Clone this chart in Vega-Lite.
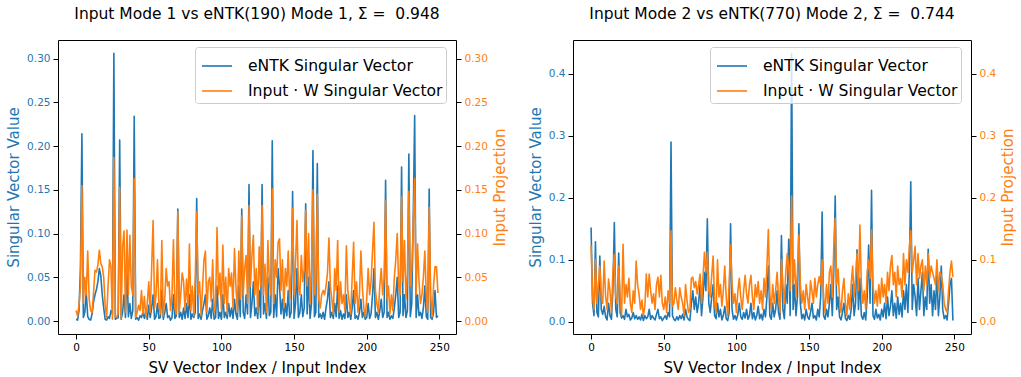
{
"$schema": "https://vega.github.io/schema/vega-lite/v6.json",
"padding": {"left": 6, "top": 6, "right": 0, "bottom": 0},
"background": "white",
"config": {
  "font": "DejaVu Sans",
  "view": {"stroke": "black", "strokeWidth": 1},
  "axis": {"grid": false, "domain": false, "tickColor": "black", "tickSize": 5, "labelFontSize": 10.5, "labelColor": "black", "titleFontSize": 15, "titleFontWeight": "normal", "titleColor": "black", "labelPadding": 3, "titlePadding": 5, "labelFont": "DejaVu Sans", "titleFont": "DejaVu Sans"},
  "axisX": {"titlePadding": 8},
  "title": {"fontSize": 15.5, "fontWeight": "normal", "color": "black", "anchor": "middle", "font": "DejaVu Sans", "offset": 18},
  "legend": {"labelFont": "DejaVu Sans", "labelColor": "black"},
  "concat": {"spacing": 19}
},
"datasets": {
"p1": [
{"i":0,"e":0.002,"p":0.012},{"i":1,"e":0.001,"p":0.006},{"i":2,"e":0.012,"p":0.018},{"i":3,"e":0.060,"p":0.040},{"i":4,"e":0.214,"p":0.155},
{"i":5,"e":0.004,"p":0.020},{"i":6,"e":0.010,"p":0.050},{"i":7,"e":0.033,"p":0.030},{"i":8,"e":0.005,"p":0.080},{"i":9,"e":0.002,"p":0.025},
{"i":10,"e":0.001,"p":0.012},{"i":11,"e":0.008,"p":0.010},{"i":12,"e":0.022,"p":0.032},{"i":13,"e":0.030,"p":0.058},{"i":14,"e":0.036,"p":0.056},
{"i":15,"e":0.045,"p":0.064},{"i":16,"e":0.060,"p":0.081},{"i":17,"e":0.052,"p":0.066},{"i":18,"e":0.030,"p":0.062},{"i":19,"e":0.015,"p":0.050},
{"i":20,"e":0.002,"p":0.018},{"i":21,"e":0.001,"p":0.004},{"i":22,"e":0.005,"p":0.040},{"i":23,"e":0.003,"p":0.070},{"i":24,"e":0.012,"p":0.062},
{"i":25,"e":0.008,"p":0.002},{"i":26,"e":0.306,"p":0.187},{"i":27,"e":0.002,"p":0.005},{"i":28,"e":0.003,"p":0.004},{"i":29,"e":0.004,"p":0.009},
{"i":30,"e":0.207,"p":0.153},{"i":31,"e":0.002,"p":0.003},{"i":32,"e":0.010,"p":0.085},{"i":33,"e":0.030,"p":0.103},{"i":34,"e":0.004,"p":0.010},
{"i":35,"e":0.060,"p":0.104},{"i":36,"e":0.005,"p":0.030},{"i":37,"e":0.020,"p":0.098},{"i":38,"e":0.003,"p":0.040},{"i":39,"e":0.012,"p":0.030},
{"i":40,"e":0.234,"p":0.163},{"i":41,"e":0.002,"p":0.004},{"i":42,"e":0.004,"p":0.010},{"i":43,"e":0.001,"p":0.018},{"i":44,"e":0.006,"p":0.012},
{"i":45,"e":0.004,"p":0.035},{"i":46,"e":0.010,"p":0.008},{"i":47,"e":0.003,"p":0.028},{"i":48,"e":0.012,"p":0.004},{"i":49,"e":0.002,"p":0.020},
{"i":50,"e":0.018,"p":0.045},{"i":51,"e":0.004,"p":0.010},{"i":52,"e":0.015,"p":0.060},{"i":53,"e":0.030,"p":0.115},{"i":54,"e":0.002,"p":0.015},
{"i":55,"e":0.005,"p":0.030},{"i":56,"e":0.020,"p":0.070},{"i":57,"e":0.003,"p":0.018},{"i":58,"e":0.004,"p":0.008},{"i":59,"e":0.035,"p":0.092},
{"i":60,"e":0.002,"p":0.006},{"i":61,"e":0.010,"p":0.025},{"i":62,"e":0.020,"p":0.060},{"i":63,"e":0.004,"p":0.040},{"i":64,"e":0.006,"p":0.045},
{"i":65,"e":0.001,"p":0.012},{"i":66,"e":0.004,"p":0.030},{"i":67,"e":0.030,"p":0.093},{"i":68,"e":0.003,"p":0.015},{"i":69,"e":0.006,"p":0.008},
{"i":70,"e":0.128,"p":0.125},{"i":71,"e":0.004,"p":0.010},{"i":72,"e":0.010,"p":0.030},{"i":73,"e":0.002,"p":0.055},{"i":74,"e":0.015,"p":0.045},
{"i":75,"e":0.003,"p":0.012},{"i":76,"e":0.020,"p":0.048},{"i":77,"e":0.004,"p":0.018},{"i":78,"e":0.030,"p":0.088},{"i":79,"e":0.002,"p":0.012},
{"i":80,"e":0.008,"p":0.040},{"i":81,"e":0.004,"p":0.006},{"i":82,"e":0.010,"p":0.050},{"i":83,"e":0.140,"p":0.125},{"i":84,"e":0.003,"p":0.030},
{"i":85,"e":0.008,"p":0.045},{"i":86,"e":0.002,"p":0.006},{"i":87,"e":0.012,"p":0.038},{"i":88,"e":0.020,"p":0.070},{"i":89,"e":0.030,"p":0.080},
{"i":90,"e":0.002,"p":0.010},{"i":91,"e":0.006,"p":0.045},{"i":92,"e":0.015,"p":0.050},{"i":93,"e":0.003,"p":0.022},{"i":94,"e":0.025,"p":0.070},
{"i":95,"e":0.002,"p":0.010},{"i":96,"e":0.004,"p":0.020},{"i":97,"e":0.040,"p":0.107},{"i":98,"e":0.003,"p":0.030},{"i":99,"e":0.010,"p":0.055},
{"i":100,"e":0.002,"p":0.012},{"i":101,"e":0.030,"p":0.087},{"i":102,"e":0.004,"p":0.020},{"i":103,"e":0.010,"p":0.050},{"i":104,"e":0.003,"p":0.008},
{"i":105,"e":0.020,"p":0.060},{"i":106,"e":0.005,"p":0.040},{"i":107,"e":0.015,"p":0.055},{"i":108,"e":0.003,"p":0.015},{"i":109,"e":0.025,"p":0.083},
{"i":110,"e":0.008,"p":0.040},{"i":111,"e":0.002,"p":0.010},{"i":112,"e":0.040,"p":0.080},{"i":113,"e":0.005,"p":0.025},{"i":114,"e":0.128,"p":0.120},
{"i":115,"e":0.010,"p":0.030},{"i":116,"e":0.003,"p":0.060},{"i":117,"e":0.030,"p":0.075},{"i":118,"e":0.008,"p":0.020},{"i":119,"e":0.156,"p":0.132},
{"i":120,"e":0.004,"p":0.040},{"i":121,"e":0.020,"p":0.075},{"i":122,"e":0.045,"p":0.098},{"i":123,"e":0.006,"p":0.030},{"i":124,"e":0.015,"p":0.060},
{"i":125,"e":0.003,"p":0.010},{"i":126,"e":0.035,"p":0.085},{"i":127,"e":0.004,"p":0.040},{"i":128,"e":0.156,"p":0.132},{"i":129,"e":0.008,"p":0.030},
{"i":130,"e":0.020,"p":0.065},{"i":131,"e":0.003,"p":0.010},{"i":132,"e":0.050,"p":0.092},{"i":133,"e":0.006,"p":0.045},{"i":134,"e":0.010,"p":0.030},
{"i":135,"e":0.206,"p":0.151},{"i":136,"e":0.004,"p":0.020},{"i":137,"e":0.030,"p":0.070},{"i":138,"e":0.005,"p":0.050},{"i":139,"e":0.060,"p":0.090},
{"i":140,"e":0.040,"p":0.094},{"i":141,"e":0.008,"p":0.035},{"i":142,"e":0.025,"p":0.070},{"i":143,"e":0.003,"p":0.015},{"i":144,"e":0.020,"p":0.060},
{"i":145,"e":0.006,"p":0.040},{"i":146,"e":0.035,"p":0.080},{"i":147,"e":0.004,"p":0.025},{"i":148,"e":0.010,"p":0.055},{"i":149,"e":0.148,"p":0.129},
{"i":150,"e":0.003,"p":0.030},{"i":151,"e":0.020,"p":0.065},{"i":152,"e":0.060,"p":0.115},{"i":153,"e":0.004,"p":0.040},{"i":154,"e":0.010,"p":0.030},
{"i":155,"e":0.030,"p":0.075},{"i":156,"e":0.005,"p":0.045},{"i":157,"e":0.015,"p":0.060},{"i":158,"e":0.134,"p":0.127},{"i":159,"e":0.008,"p":0.040},
{"i":160,"e":0.050,"p":0.100},{"i":161,"e":0.003,"p":0.020},{"i":162,"e":0.020,"p":0.060},{"i":163,"e":0.195,"p":0.150},{"i":164,"e":0.005,"p":0.030},
{"i":165,"e":0.010,"p":0.045},{"i":166,"e":0.180,"p":0.145},{"i":167,"e":0.004,"p":0.025},{"i":168,"e":0.008,"p":0.015},{"i":169,"e":0.003,"p":0.030},
{"i":170,"e":0.010,"p":0.035},{"i":171,"e":0.002,"p":0.030},{"i":172,"e":0.015,"p":0.040},{"i":173,"e":0.025,"p":0.055},{"i":174,"e":0.045,"p":0.095},
{"i":175,"e":0.004,"p":0.040},{"i":176,"e":0.010,"p":0.025},{"i":177,"e":0.003,"p":0.008},{"i":178,"e":0.020,"p":0.060},{"i":179,"e":0.005,"p":0.035},
{"i":180,"e":0.040,"p":0.092},{"i":181,"e":0.003,"p":0.010},{"i":182,"e":0.012,"p":0.045},{"i":183,"e":0.002,"p":0.020},{"i":184,"e":0.008,"p":0.030},
{"i":185,"e":0.003,"p":0.012},{"i":186,"e":0.030,"p":0.086},{"i":187,"e":0.004,"p":0.035},{"i":188,"e":0.010,"p":0.020},{"i":189,"e":0.002,"p":0.008},
{"i":190,"e":0.015,"p":0.050},{"i":191,"e":0.035,"p":0.090},{"i":192,"e":0.003,"p":0.020},{"i":193,"e":0.006,"p":0.045},{"i":194,"e":0.002,"p":0.010},
{"i":195,"e":0.010,"p":0.030},{"i":196,"e":0.025,"p":0.080},{"i":197,"e":0.004,"p":0.040},{"i":198,"e":0.010,"p":0.015},{"i":199,"e":0.002,"p":0.005},
{"i":200,"e":0.004,"p":0.025},{"i":201,"e":0.020,"p":0.060},{"i":202,"e":0.003,"p":0.030},{"i":203,"e":0.008,"p":0.045},{"i":204,"e":0.030,"p":0.080},
{"i":205,"e":0.060,"p":0.113},{"i":206,"e":0.004,"p":0.035},{"i":207,"e":0.010,"p":0.020},{"i":208,"e":0.002,"p":0.010},{"i":209,"e":0.012,"p":0.040},
{"i":210,"e":0.025,"p":0.060},{"i":211,"e":0.004,"p":0.030},{"i":212,"e":0.010,"p":0.050},{"i":213,"e":0.161,"p":0.138},{"i":214,"e":0.004,"p":0.025},
{"i":215,"e":0.010,"p":0.040},{"i":216,"e":0.002,"p":0.008},{"i":217,"e":0.006,"p":0.030},{"i":218,"e":0.003,"p":0.012},{"i":219,"e":0.015,"p":0.050},
{"i":220,"e":0.030,"p":0.070},{"i":221,"e":0.050,"p":0.100},{"i":222,"e":0.004,"p":0.040},{"i":223,"e":0.010,"p":0.030},{"i":224,"e":0.176,"p":0.142},
{"i":225,"e":0.006,"p":0.045},{"i":226,"e":0.030,"p":0.092},{"i":227,"e":0.004,"p":0.025},{"i":228,"e":0.012,"p":0.055},{"i":229,"e":0.191,"p":0.148},
{"i":230,"e":0.005,"p":0.040},{"i":231,"e":0.020,"p":0.060},{"i":232,"e":0.115,"p":0.110},{"i":233,"e":0.235,"p":0.163},{"i":234,"e":0.004,"p":0.030},
{"i":235,"e":0.030,"p":0.088},{"i":236,"e":0.006,"p":0.045},{"i":237,"e":0.010,"p":0.020},{"i":238,"e":0.003,"p":0.030},{"i":239,"e":0.015,"p":0.050},
{"i":240,"e":0.040,"p":0.080},{"i":241,"e":0.005,"p":0.030},{"i":242,"e":0.002,"p":0.010},{"i":243,"e":0.151,"p":0.130},{"i":244,"e":0.004,"p":0.030},
{"i":245,"e":0.002,"p":0.005},{"i":246,"e":0.010,"p":0.040},{"i":247,"e":0.035,"p":0.062},{"i":248,"e":0.004,"p":0.062},{"i":249,"e":0.006,"p":0.032}
],
"p2": [
{"i":0,"e":0.152,"p":0.123},{"i":1,"e":0.030,"p":0.040},{"i":2,"e":0.010,"p":0.020},{"i":3,"e":0.129,"p":0.101},{"i":4,"e":0.015,"p":0.030},
{"i":5,"e":0.008,"p":0.060},{"i":6,"e":0.106,"p":0.090},{"i":7,"e":0.020,"p":0.040},{"i":8,"e":0.012,"p":0.030},{"i":9,"e":0.025,"p":0.098},
{"i":10,"e":0.008,"p":0.040},{"i":11,"e":0.003,"p":0.020},{"i":12,"e":0.030,"p":0.069},{"i":13,"e":0.010,"p":0.050},{"i":14,"e":0.004,"p":0.015},
{"i":15,"e":0.050,"p":0.080},{"i":16,"e":0.160,"p":0.109},{"i":17,"e":0.020,"p":0.040},{"i":18,"e":0.008,"p":0.030},{"i":19,"e":0.111,"p":0.090},
{"i":20,"e":0.015,"p":0.040},{"i":21,"e":0.006,"p":0.010},{"i":22,"e":0.010,"p":0.125},{"i":23,"e":0.004,"p":0.030},{"i":24,"e":0.020,"p":0.060},
{"i":25,"e":0.008,"p":0.040},{"i":26,"e":0.012,"p":0.070},{"i":27,"e":0.003,"p":0.030},{"i":28,"e":0.006,"p":0.015},{"i":29,"e":0.015,"p":0.050},
{"i":30,"e":0.005,"p":0.030},{"i":31,"e":0.010,"p":0.098},{"i":32,"e":0.004,"p":0.060},{"i":33,"e":0.008,"p":0.045},{"i":34,"e":0.003,"p":0.020},
{"i":35,"e":0.012,"p":0.035},{"i":36,"e":0.002,"p":0.010},{"i":37,"e":0.010,"p":0.025},{"i":38,"e":0.005,"p":0.077},{"i":39,"e":0.008,"p":0.040},
{"i":40,"e":0.020,"p":0.077},{"i":41,"e":0.004,"p":0.050},{"i":42,"e":0.010,"p":0.030},{"i":43,"e":0.006,"p":0.045},{"i":44,"e":0.003,"p":0.020},
{"i":45,"e":0.012,"p":0.060},{"i":46,"e":0.020,"p":0.072},{"i":47,"e":0.005,"p":0.040},{"i":48,"e":0.008,"p":0.075},{"i":49,"e":0.002,"p":0.030},
{"i":50,"e":0.006,"p":0.020},{"i":51,"e":0.010,"p":0.040},{"i":52,"e":0.004,"p":0.015},{"i":53,"e":0.015,"p":0.050},{"i":54,"e":0.008,"p":0.030},
{"i":55,"e":0.290,"p":0.147},{"i":56,"e":0.010,"p":0.025},{"i":57,"e":0.004,"p":0.030},{"i":58,"e":0.002,"p":0.055},{"i":59,"e":0.008,"p":0.035},
{"i":60,"e":0.003,"p":0.020},{"i":61,"e":0.010,"p":0.055},{"i":62,"e":0.005,"p":0.040},{"i":63,"e":0.012,"p":0.030},{"i":64,"e":0.003,"p":0.010},
{"i":65,"e":0.020,"p":0.060},{"i":66,"e":0.008,"p":0.035},{"i":67,"e":0.004,"p":0.015},{"i":68,"e":0.002,"p":0.020},{"i":69,"e":0.030,"p":0.070},
{"i":70,"e":0.050,"p":0.072},{"i":71,"e":0.020,"p":0.055},{"i":72,"e":0.040,"p":0.065},{"i":73,"e":0.015,"p":0.045},{"i":74,"e":0.030,"p":0.060},
{"i":75,"e":0.060,"p":0.077},{"i":76,"e":0.010,"p":0.030},{"i":77,"e":0.040,"p":0.070},{"i":78,"e":0.080,"p":0.112},{"i":79,"e":0.050,"p":0.080},
{"i":80,"e":0.166,"p":0.112},{"i":81,"e":0.030,"p":0.050},{"i":82,"e":0.015,"p":0.040},{"i":83,"e":0.040,"p":0.075},{"i":84,"e":0.060,"p":0.106},
{"i":85,"e":0.010,"p":0.030},{"i":86,"e":0.005,"p":0.015},{"i":87,"e":0.030,"p":0.100},{"i":88,"e":0.008,"p":0.040},{"i":89,"e":0.020,"p":0.060},
{"i":90,"e":0.003,"p":0.025},{"i":91,"e":0.010,"p":0.050},{"i":92,"e":0.025,"p":0.090},{"i":93,"e":0.005,"p":0.040},{"i":94,"e":0.002,"p":0.010},
{"i":95,"e":0.015,"p":0.060},{"i":96,"e":0.158,"p":0.124},{"i":97,"e":0.020,"p":0.060},{"i":98,"e":0.004,"p":0.030},{"i":99,"e":0.010,"p":0.045},
{"i":100,"e":0.003,"p":0.015},{"i":101,"e":0.012,"p":0.050},{"i":102,"e":0.030,"p":0.070},{"i":103,"e":0.008,"p":0.040},{"i":104,"e":0.004,"p":0.020},
{"i":105,"e":0.015,"p":0.050},{"i":106,"e":0.006,"p":0.075},{"i":107,"e":0.020,"p":0.045},{"i":108,"e":0.004,"p":0.030},{"i":109,"e":0.010,"p":0.060},
{"i":110,"e":0.030,"p":0.075},{"i":111,"e":0.005,"p":0.040},{"i":112,"e":0.015,"p":0.020},{"i":113,"e":0.003,"p":0.060},{"i":114,"e":0.010,"p":0.040},
{"i":115,"e":0.025,"p":0.065},{"i":116,"e":0.005,"p":0.030},{"i":117,"e":0.012,"p":0.050},{"i":118,"e":0.003,"p":0.020},{"i":119,"e":0.020,"p":0.070},
{"i":120,"e":0.008,"p":0.040},{"i":121,"e":0.040,"p":0.090},{"i":122,"e":0.090,"p":0.149},{"i":123,"e":0.010,"p":0.045},{"i":124,"e":0.004,"p":0.020},
{"i":125,"e":0.030,"p":0.060},{"i":126,"e":0.008,"p":0.030},{"i":127,"e":0.020,"p":0.050},{"i":128,"e":0.050,"p":0.080},{"i":129,"e":0.015,"p":0.040},
{"i":130,"e":0.004,"p":0.015},{"i":131,"e":0.139,"p":0.100},{"i":132,"e":0.020,"p":0.060},{"i":133,"e":0.005,"p":0.030},{"i":134,"e":0.060,"p":0.080},
{"i":135,"e":0.030,"p":0.110},{"i":136,"e":0.133,"p":0.090},{"i":137,"e":0.010,"p":0.050},{"i":138,"e":0.433,"p":0.203},{"i":139,"e":0.020,"p":0.060},
{"i":140,"e":0.060,"p":0.100},{"i":141,"e":0.010,"p":0.040},{"i":142,"e":0.040,"p":0.080},{"i":143,"e":0.158,"p":0.140},{"i":144,"e":0.030,"p":0.060},
{"i":145,"e":0.005,"p":0.030},{"i":146,"e":0.012,"p":0.050},{"i":147,"e":0.003,"p":0.020},{"i":148,"e":0.020,"p":0.060},{"i":149,"e":0.008,"p":0.040},
{"i":150,"e":0.004,"p":0.020},{"i":151,"e":0.015,"p":0.066},{"i":152,"e":0.030,"p":0.050},{"i":153,"e":0.006,"p":0.030},{"i":154,"e":0.010,"p":0.070},
{"i":155,"e":0.003,"p":0.040},{"i":156,"e":0.020,"p":0.060},{"i":157,"e":0.008,"p":0.073},{"i":158,"e":0.040,"p":0.060},{"i":159,"e":0.177,"p":0.100},
{"i":160,"e":0.010,"p":0.040},{"i":161,"e":0.004,"p":0.015},{"i":162,"e":0.020,"p":0.060},{"i":163,"e":0.008,"p":0.030},{"i":164,"e":0.030,"p":0.080},
{"i":165,"e":0.060,"p":0.090},{"i":166,"e":0.010,"p":0.040},{"i":167,"e":0.080,"p":0.120},{"i":168,"e":0.203,"p":0.167},{"i":169,"e":0.020,"p":0.060},
{"i":170,"e":0.040,"p":0.085},{"i":171,"e":0.008,"p":0.035},{"i":172,"e":0.003,"p":0.015},{"i":173,"e":0.015,"p":0.050},{"i":174,"e":0.030,"p":0.070},
{"i":175,"e":0.006,"p":0.030},{"i":176,"e":0.002,"p":0.010},{"i":177,"e":0.010,"p":0.045},{"i":178,"e":0.004,"p":0.020},{"i":179,"e":0.020,"p":0.060},
{"i":180,"e":0.060,"p":0.090},{"i":181,"e":0.010,"p":0.040},{"i":182,"e":0.030,"p":0.070},{"i":183,"e":0.116,"p":0.110},{"i":184,"e":0.020,"p":0.050},
{"i":185,"e":0.070,"p":0.156},{"i":186,"e":0.010,"p":0.060},{"i":187,"e":0.004,"p":0.030},{"i":188,"e":0.015,"p":0.050},{"i":189,"e":0.003,"p":0.020},
{"i":190,"e":0.040,"p":0.080},{"i":191,"e":0.124,"p":0.100},{"i":192,"e":0.030,"p":0.070},{"i":193,"e":0.212,"p":0.148},{"i":194,"e":0.010,"p":0.060},
{"i":195,"e":0.004,"p":0.030},{"i":196,"e":0.020,"p":0.050},{"i":197,"e":0.006,"p":0.025},{"i":198,"e":0.012,"p":0.060},{"i":199,"e":0.003,"p":0.030},
{"i":200,"e":0.020,"p":0.070},{"i":201,"e":0.008,"p":0.040},{"i":202,"e":0.030,"p":0.060},{"i":203,"e":0.005,"p":0.030},{"i":204,"e":0.040,"p":0.080},
{"i":205,"e":0.010,"p":0.050},{"i":206,"e":0.025,"p":0.090},{"i":207,"e":0.050,"p":0.107},{"i":208,"e":0.010,"p":0.060},{"i":209,"e":0.030,"p":0.080},
{"i":210,"e":0.006,"p":0.040},{"i":211,"e":0.040,"p":0.090},{"i":212,"e":0.012,"p":0.060},{"i":213,"e":0.030,"p":0.070},{"i":214,"e":0.008,"p":0.040},
{"i":215,"e":0.050,"p":0.110},{"i":216,"e":0.020,"p":0.060},{"i":217,"e":0.060,"p":0.100},{"i":218,"e":0.015,"p":0.080},{"i":219,"e":0.080,"p":0.120},
{"i":220,"e":0.226,"p":0.147},{"i":221,"e":0.020,"p":0.080},{"i":222,"e":0.060,"p":0.100},{"i":223,"e":0.040,"p":0.122},{"i":224,"e":0.010,"p":0.060},
{"i":225,"e":0.070,"p":0.110},{"i":226,"e":0.020,"p":0.070},{"i":227,"e":0.050,"p":0.090},{"i":228,"e":0.080,"p":0.100},{"i":229,"e":0.010,"p":0.050},
{"i":230,"e":0.040,"p":0.090},{"i":231,"e":0.020,"p":0.060},{"i":232,"e":0.117,"p":0.110},{"i":233,"e":0.030,"p":0.070},{"i":234,"e":0.060,"p":0.090},
{"i":235,"e":0.010,"p":0.080},{"i":236,"e":0.050,"p":0.070},{"i":237,"e":0.020,"p":0.060},{"i":238,"e":0.080,"p":0.100},{"i":239,"e":0.010,"p":0.050},
{"i":240,"e":0.040,"p":0.080},{"i":241,"e":0.090,"p":0.075},{"i":242,"e":0.020,"p":0.060},{"i":243,"e":0.005,"p":0.030},{"i":244,"e":0.010,"p":0.020},
{"i":245,"e":0.003,"p":0.015},{"i":246,"e":0.030,"p":0.050},{"i":247,"e":0.060,"p":0.080},{"i":248,"e":0.070,"p":0.098},{"i":249,"e":0.002,"p":0.072}
]
},
"hconcat": [
{
  "title": {"text": "Input Mode 1 vs eNTK(190) Mode 1, Σ = \u00a00.948"},
  "width": 398, "height": 294,
  "data": {"name": "p1"},
  "layer": [
    {"mark": {"type": "line", "strokeWidth": 1.6, "strokeJoin": "round"},
     "encoding": {
       "x": {"field": "i", "type": "quantitative", "scale": {"domain": [-12.45, 261.45], "nice": false, "zero": false}, "axis": {"values": [0, 50, 100, 150, 200, 250], "title": "SV Vector Index / Input Index", "labelFlush": false}},
       "y": {"field": "e", "type": "quantitative", "scale": {"domain": [-0.0148, 0.3213], "nice": false, "zero": false}, "axis": {"orient": "left", "values": [0, 0.05, 0.1, 0.15, 0.2, 0.25, 0.3], "format": ".2f", "title": "Singular Vector Value", "titleColor": "#1f77b4", "labelColor": "#1f77b4"}},
       "color": {"datum": "eNTK Singular Vector", "type": "nominal", "scale": {"domain": ["eNTK Singular Vector", "Input · W Singular Vector"], "range": ["#1f77b4", "#ff7f0e"]},
         "legend": {"orient": "none", "legendX": 137, "legendY": 7, "title": null, "symbolType": "stroke", "symbolSize": 900, "symbolStrokeWidth": 1.6, "labelFontSize": 15.6, "fillColor": "rgba(255,255,255,0.8)", "strokeColor": "#cccccc", "cornerRadius": 3, "padding": 3, "symbolOffset": 3, "rowPadding": -3, "labelOffset": 15, "labelLimit": 400, "labelExpr": "datum.label + '\u00a0'"}}
     }},
    {"mark": {"type": "line", "strokeWidth": 1.6, "strokeJoin": "round"},
     "encoding": {
       "x": {"field": "i", "type": "quantitative", "scale": {"domain": [-12.45, 261.45], "nice": false, "zero": false}, "axis": {"values": [0, 50, 100, 150, 200, 250], "title": "SV Vector Index / Input Index", "labelFlush": false}},
       "y": {"field": "p", "type": "quantitative", "scale": {"domain": [-0.0148, 0.3213], "nice": false, "zero": false}, "axis": {"orient": "right", "values": [0, 0.05, 0.1, 0.15, 0.2, 0.25, 0.3], "format": ".2f", "title": "Input Projection", "titleColor": "#ff7f0e", "labelColor": "#ff7f0e", "titleAngle": 270, "titleBaseline": "top"}},
       "color": {"datum": "Input · W Singular Vector", "type": "nominal"}
     }}
  ],
  "resolve": {"scale": {"y": "independent"}}
},
{
  "title": {"text": "Input Mode 2 vs eNTK(770) Mode 2, Σ = \u00a00.744"},
  "width": 398, "height": 294,
  "data": {"name": "p2"},
  "layer": [
    {"mark": {"type": "line", "strokeWidth": 1.6, "strokeJoin": "round"},
     "encoding": {
       "x": {"field": "i", "type": "quantitative", "scale": {"domain": [-12.45, 261.45], "nice": false, "zero": false}, "axis": {"values": [0, 50, 100, 150, 200, 250], "title": "SV Vector Index / Input Index", "labelFlush": false}},
       "y": {"field": "e", "type": "quantitative", "scale": {"domain": [-0.0197, 0.4547], "nice": false, "zero": false}, "axis": {"orient": "left", "values": [0, 0.1, 0.2, 0.3, 0.4], "format": ".1f", "title": "Singular Vector Value", "titleColor": "#1f77b4", "labelColor": "#1f77b4"}},
       "color": {"datum": "eNTK Singular Vector", "type": "nominal", "scale": {"domain": ["eNTK Singular Vector", "Input · W Singular Vector"], "range": ["#1f77b4", "#ff7f0e"]},
         "legend": {"orient": "none", "legendX": 137, "legendY": 7, "title": null, "symbolType": "stroke", "symbolSize": 900, "symbolStrokeWidth": 1.6, "labelFontSize": 15.6, "fillColor": "rgba(255,255,255,0.8)", "strokeColor": "#cccccc", "cornerRadius": 3, "padding": 3, "symbolOffset": 3, "rowPadding": -3, "labelOffset": 15, "labelLimit": 400, "labelExpr": "datum.label + '\u00a0'"}}
     }},
    {"mark": {"type": "line", "strokeWidth": 1.6, "strokeJoin": "round"},
     "encoding": {
       "x": {"field": "i", "type": "quantitative", "scale": {"domain": [-12.45, 261.45], "nice": false, "zero": false}, "axis": {"values": [0, 50, 100, 150, 200, 250], "title": "SV Vector Index / Input Index", "labelFlush": false}},
       "y": {"field": "p", "type": "quantitative", "scale": {"domain": [-0.0197, 0.4547], "nice": false, "zero": false}, "axis": {"orient": "right", "values": [0, 0.1, 0.2, 0.3, 0.4], "format": ".1f", "title": "Input Projection", "titleColor": "#ff7f0e", "labelColor": "#ff7f0e", "titleAngle": 270, "titleBaseline": "top"}},
       "color": {"datum": "Input · W Singular Vector", "type": "nominal"}
     }}
  ],
  "resolve": {"scale": {"y": "independent"}}
}
],
"resolve": {"scale": {"color": "independent"}}
}
